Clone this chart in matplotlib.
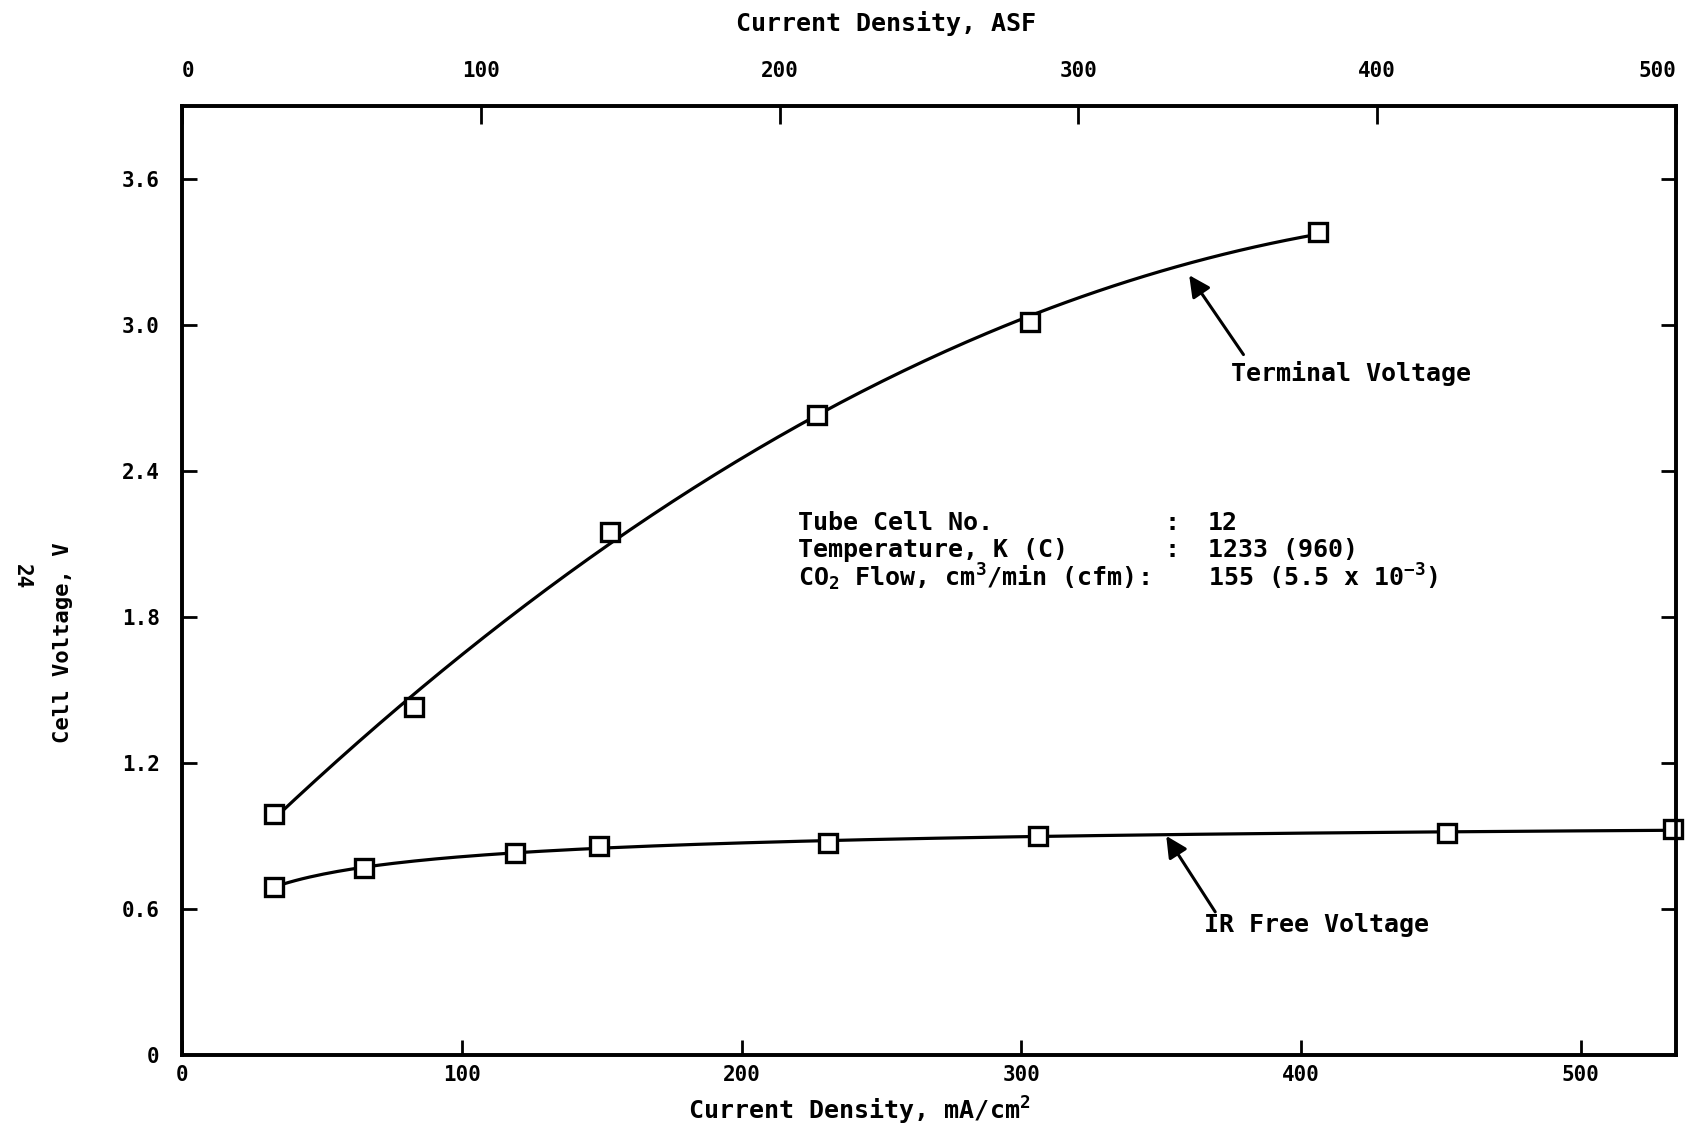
import numpy as np
import matplotlib
matplotlib.use("Agg")
import matplotlib.pyplot as plt

plt.rcParams['font.family'] = ['DejaVu Sans Mono', 'DejaVu Sans']
plt.rcParams['font.weight'] = 'bold'
plt.rcParams['mathtext.fontset'] = 'custom'
plt.rcParams['mathtext.rm'] = 'DejaVu Sans Mono:bold'
plt.rcParams['mathtext.it'] = 'DejaVu Sans Mono:bold'
plt.rcParams['mathtext.bf'] = 'DejaVu Sans Mono:bold'

# current density, mA/cm2 and cell voltage, V
term_x = [33, 83, 153, 227, 303, 406]
term_v = [0.99, 1.43, 2.15, 2.63, 3.01, 3.38]
irfree_x = [33, 65, 119, 149, 231, 306, 452, 533]
irfree_v = [0.69, 0.77, 0.83, 0.86, 0.87, 0.90, 0.91, 0.93]

y_ticks = [0, 0.6, 1.2, 1.8, 2.4, 3.0, 3.6]
y_labels = ["0", "0.6", "1.2", "1.8", "2.4", "3.0", "3.6"]
x_ticks = [0, 100, 200, 300, 400, 500]
asf_ticks = [0, 100, 200, 300, 400, 500]

info_left = ["Tube Cell No.", "Temperature, K (C)", "CO$_2$ Flow, cm$^3$/min (cfm):"]
info_colon = [":", ":", ""]
info_right = ["12", "1233 (960)", "155 (5.5 x 10$^{-3}$)"]

fig = plt.figure(figsize=(17.06, 11.37), dpi=100)
ax = fig.add_axes([0.1067, 0.0721, 0.8757, 0.8351])
ax.set_xlim(0, 534)
ax.set_ylim(0, 3.9)

# smooth curves drawn through the points
tx = np.array(term_x, float)
tc = np.polyfit(tx, term_v, 2)
xs = np.linspace(tx[0], tx[-1], 200)
ax.plot(xs, np.polyval(tc, xs), color='black', lw=2.3, zorder=2)

ix = np.array(irfree_x, float)
ic = np.polyfit(np.log(ix), irfree_v, 2)
xs2 = np.linspace(ix[0], ix[-1], 200)
ax.plot(xs2, np.polyval(ic, np.log(xs2)), color='black', lw=2.3, zorder=2)

for xx, vv in [(term_x, term_v), (irfree_x, irfree_v)]:
    ax.plot(xx, vv, ls='none', marker='s', ms=13, mfc='white', mec='black',
            mew=2.4, zorder=3, clip_on=False)

for s in ax.spines.values():
    s.set_linewidth(2.6)

ax.set_yticks(y_ticks)
ax.set_yticklabels(y_labels)
ax.set_xticks(x_ticks)
ax.tick_params(axis='both', direction='in', length=11, width=2, labelsize=15)
ax.tick_params(axis='y', right=True, pad=16)
ax.tick_params(axis='x', pad=7)
ax.yaxis.get_major_ticks()[0].tick1line.set_visible(False)
ax.yaxis.get_major_ticks()[0].tick2line.set_visible(False)

ax.set_xlabel("Current Density, mA/cm$^2$", fontsize=18, fontweight='bold')
ax.xaxis.set_label_coords(0.4535, -0.042)
ax.set_ylabel("Cell Voltage, V", fontsize=16, fontweight='bold')
ax.yaxis.set_label_coords(-0.073, 0.434)

top = ax.twiny()
top.set_xlim(0, 500)
top.set_xticks(asf_ticks)
top.tick_params(axis='x', direction='in', length=13, width=2, labelsize=15, pad=18)
labs = top.get_xticklabels()
labs[0].set_ha('left')
labs[-1].set_ha('right')
top.set_xlabel("Current Density, ASF", fontsize=18, fontweight='bold')
top.xaxis.set_label_coords(0.4714, 1.078)
for s in top.spines.values():
    s.set_linewidth(2.6)

# info block
ys = [2.185, 2.074, 1.962]
for i in range(3):
    ax.text(220, ys[i], info_left[i], fontsize=18, fontweight='bold', va='center', ha='left')
    ax.text(351, ys[i], info_colon[i], fontsize=18, fontweight='bold', va='center', ha='left')
    ax.text(366.6, ys[i], info_right[i], fontsize=18, fontweight='bold', va='center', ha='left')

arrow = dict(arrowstyle='-|>', lw=2.2, color='black', mutation_scale=32,
             shrinkA=0, shrinkB=0)
ax.annotate("", xy=(360.0, 3.203), xytext=(379.4, 2.877), arrowprops=arrow)
ax.text(375, 2.80, "Terminal Voltage", fontsize=18, fontweight='bold', va='center', ha='left')
ax.annotate("", xy=(351.8, 0.900), xytext=(369.3, 0.588), arrowprops=arrow)
ax.text(365.4, 0.534, "IR Free Voltage", fontsize=18, fontweight='bold', va='center', ha='left')

fig.text(0.0128, 0.4929, "24", rotation=-90, fontsize=15, fontweight='bold',
         ha='center', va='center')

fig.savefig("out.png", dpi=100)
